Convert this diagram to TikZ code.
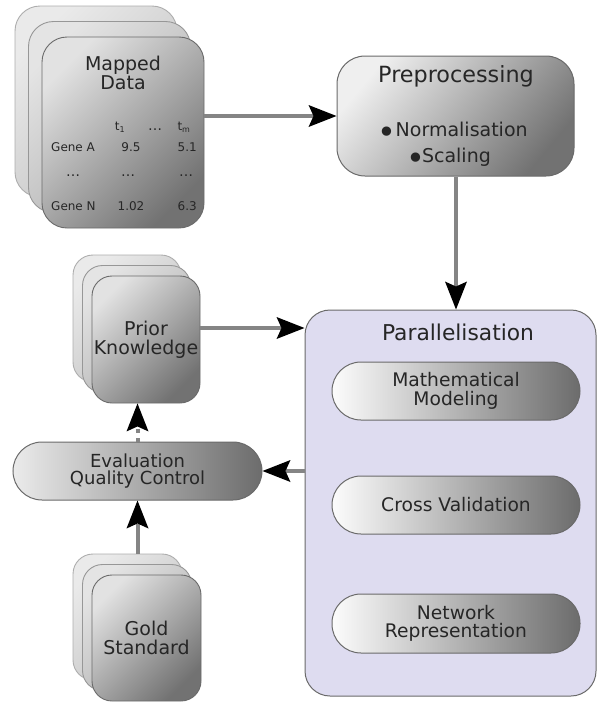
\documentclass[tikz,border=0pt]{standalone}
\usepackage{fontspec}
\setmainfont{DejaVu Sans}
\usetikzlibrary{arrows.meta,calc}

\definecolor{flow}{HTML}{858585}
\definecolor{edge}{HTML}{6A6A6A}
\definecolor{lav}{HTML}{DEDCF0}
\definecolor{frontA}{HTML}{E2E2E2}
\definecolor{frontB}{HTML}{727272}
\definecolor{midA}{HTML}{E4E4E4}
\definecolor{midB}{HTML}{ACACAC}
\definecolor{backA}{HTML}{EAEAEA}
\definecolor{backB}{HTML}{C0C0C0}
\definecolor{pillA}{HTML}{FCFCFC}
\definecolor{pillB}{HTML}{6C6C6C}

% enlarged list bullet
\newcommand\listdot{\raisebox{-7pt}{\fontsize{32}{32}\selectfont\kern-5pt•\kern-5pt}}

\tikzset{
  backcard/.style={draw=edge!55, line width=0.9pt, rounded corners=#1,
    top color=backA, bottom color=backB, shading angle=45, inner sep=0pt},
  midcard/.style={draw=edge!70, line width=0.9pt, rounded corners=#1,
    top color=midA, bottom color=midB, shading angle=45, inner sep=0pt},
  frontcard/.style={draw=edge, line width=0.9pt, rounded corners=#1,
    top color=frontA, bottom color=frontB, shading angle=45, inner sep=0pt,
    align=center, font=\fontsize{19}{18.8}\selectfont, text=black!85},
  pill/.style={draw=edge, line width=1pt, rounded corners=29pt,
    left color=pillA, right color=pillB, inner sep=0pt,
    minimum width=248pt, minimum height=58pt,
    align=center, font=\fontsize{18.7}{18.4}\selectfont, text=black!85},
  flowline/.style={draw=flow, line width=4pt,
    -{Stealth[length=28pt,width=22pt,inset=5pt,color=black,line width=0pt]}},
  cell/.style={anchor=base, inner sep=0pt, font=\fontsize{12}{14}\selectfont, text=black!85},
  dotcell/.style={cell, font=\fontsize{14}{14}\selectfont},
  tag/.style={anchor=base, inner sep=0pt, text=black!85},
}

\begin{document}
\begin{tikzpicture}[x=1pt,y=-1pt]
\useasboundingbox (0,0) rectangle (597,702);

% ---------- Mapped Data stack ----------
\node[backcard=25pt, minimum width=162pt, minimum height=191pt] (md3) at (96,101.5) {};
\node[midcard=25pt, minimum width=162pt, minimum height=191pt] (md2) at (109.5,117) {};
\node[frontcard=25pt, minimum width=162pt, minimum height=191pt] (md) at (123,132.5) {};
\node[inner sep=0pt, align=center, font=\fontsize{19}{18.6}\selectfont, text=black!85]
  (mdtitle) at (123,73) {Mapped\\Data};

% table of expression values
\node[cell] (th1) at (120,130.7) {t\textsubscript{1}};
\node[dotcell] (thd) at (155,130.7) {…};
\node[cell] (thm) at (184,130.7) {t\textsubscript{m}};
\node[cell, anchor=base west] (ga) at (51,151.7) {Gene A};
\node[cell] (ga1) at (131,151.7) {9.5};
\node[cell, anchor=base east] (gam) at (197,151.7) {5.1};
\node[dotcell] (rd1) at (73,176.7) {…};
\node[dotcell] (rd2) at (128,176.7) {…};
\node[dotcell] (rd3) at (186,176.7) {…};
\node[cell, anchor=base west] (gn) at (51,210.7) {Gene N};
\node[cell] (gn1) at (131,210.7) {1.02};
\node[cell, anchor=base east] (gnm) at (197,210.7) {6.3};

% ---------- Preprocessing ----------
\node[draw=edge, line width=1pt, rounded corners=28pt, top color=frontA!55!white,
  bottom color=frontB, shading angle=50, minimum width=237pt, minimum height=120pt]
  (pre) at (455.5,116) {};
\node[tag, font=\fontsize{22.3}{22}\selectfont] (pretitle) at (456,82) {Preprocessing};
\node[tag, font=\fontsize{19}{19}\selectfont] (norm) at (455,136) {\listdot\kern4.5pt Normalisation};
\node[tag, font=\fontsize{19}{19}\selectfont] (scal) at (451,162) {\listdot\kern2pt Scaling};

% ---------- Parallelisation ----------
\node[draw=edge, line width=1pt, rounded corners=25pt, fill=lav,
  minimum width=291pt, minimum height=386pt] (par) at (450.5,503) {};
\node[tag, font=\fontsize{21.8}{22}\selectfont] (partitle) at (458,340.7) {Parallelisation};
\node[pill] (math) at (456,391) {Mathematical\\Modeling};
\node[pill] (cv) at (456,505) {Cross Validation};
\node[pill, minimum height=59pt] (net) at (456,623.5) {Network\\Representation};

% ---------- Prior Knowledge stack ----------
\node[backcard=20pt, minimum width=108pt, minimum height=127pt] (pk3) at (127,318.5) {};
\node[midcard=20pt, minimum width=108pt, minimum height=127pt] (pk2) at (136.5,329) {};
\node[frontcard=20pt, minimum width=108pt, minimum height=127pt] (pk) at (146,339.5) {Prior\\Knowledge};

% ---------- Evaluation ----------
\node[pill, left color=frontA!70!white, right color=pillB, minimum width=249pt,
  font=\fontsize{18}{16.8}\selectfont] (eval) at (137.5,471) {Evaluation\\Quality Control};

% ---------- Gold Standard stack ----------
\node[backcard=20pt, minimum width=109pt, minimum height=126pt] (gs3) at (127.5,617) {};
\node[midcard=20pt, minimum width=109pt, minimum height=126pt] (gs2) at (137,627.5) {};
\node[frontcard=20pt, minimum width=109pt, minimum height=126pt] (gs) at (146.5,638) {Gold\\Standard};

% ---------- connectors ----------
\draw[flowline] (md.east |- pre.west) -- (pre.west);
\draw[flowline] (pretitle.south |- pre.south) -- (pretitle.south |- par.north);
\draw[flowline] ([yshift=11.5pt]pk.east) -- ([yshift=11.5pt]pk.east -| par.west);
\draw[flowline] (par.west |- eval.east) -- (eval.east);
\draw[flowline, dash pattern=on 4pt off 5pt] (eval.north) -- (eval.north |- pk.south);
\draw[flowline] (eval.south |- gs3.north) -- (eval.south);
\end{tikzpicture}
\end{document}
